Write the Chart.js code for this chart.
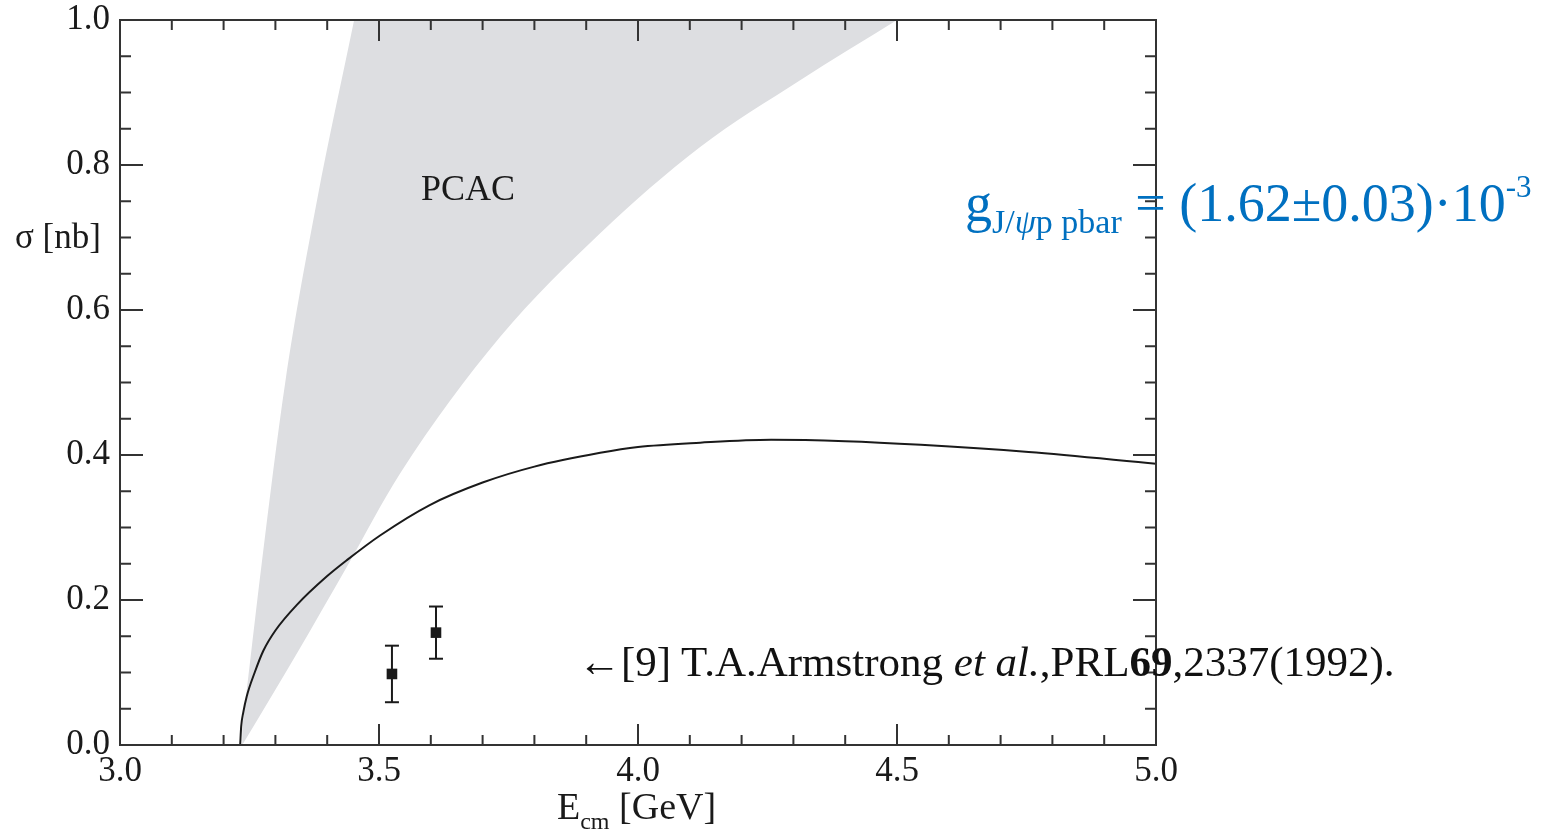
<!DOCTYPE html>
<html>
<head>
<meta charset="utf-8">
<title>sigma vs Ecm</title>
<script src="https://cdn.jsdelivr.net/npm/chart.js@4.4.0/dist/chart.umd.min.js"></script>
<style>
    body { margin: 0; background: #fff; }
    #wrap { position: relative; width: 1549px; height: 831px; font-family: 'Liberation Serif', 'Times New Roman', serif; }
    #wrap canvas { position: absolute; left: 0; top: 0; }
    .note { position: absolute; white-space: nowrap; line-height: 1; color: #1a1a1a; }
    .note span { position: relative; }
</style>
</head>
<body>
<div id="wrap">
    <canvas id="sigmaChart" width="1549" height="831"></canvas>
    <div class="note" style="left:421px; top:170px; font-size:36px;">PCAC</div>
    <div class="note" style="left:15px; top:219px; font-size:35px;">σ [nb]</div>
    <div class="note" style="left:557px; top:787px; font-size:38px;">E<span style="font-size:24px; top:10px;">cm</span> [GeV]</div>
    <div class="note" style="left:578px; top:640px; font-size:43px; color:#111;">←[9] T.A.Armstrong <i>et al.</i>,PRL<b>69</b>,2337(1992).</div>
    <div class="note" style="left:965px; top:176px; font-size:54px; color:#0070c0;">g<span style="font-size:34px; top:12px;">J/<i>ψ</i>p pbar</span> = (1.62±0.03)·10<span style="font-size:31px; top:-24px;">-3</span></div>
</div>
<script>
// model curve
const curveE     = [3.232, 3.234, 3.238, 3.2446, 3.260, 3.2767, 3.300, 3.341, 3.400, 3.438, 3.502, 3.598, 3.700, 3.800, 3.927, 4.000, 4.120, 4.257, 4.400, 4.546, 4.754, 5.000];
const curveSigma = [0.000, 0.026, 0.045, 0.067,  0.100, 0.130,  0.158, 0.193, 0.233, 0.255, 0.289, 0.331, 0.362, 0.384, 0.403, 0.411, 0.417, 0.421, 0.419, 0.414, 0.404, 0.388];

// PCAC band: upper (left) edge and lower (right) edge, running past the frame top
const bandUpperE     = [3.232, 3.247, 3.2735, 3.319, 3.380, 3.452, 3.500, 4.500];
const bandUpperSigma = [0.000, 0.090, 0.250,  0.500, 0.750, 1.000, 1.170, 1.170];
const bandLowerE     = [3.236, 3.342, 3.438, 3.541, 3.734, 3.927, 4.120, 4.313, 4.500];
const bandLowerSigma = [0.000, 0.127, 0.246, 0.375, 0.563, 0.706, 0.825, 0.917, 1.000];

// Armstrong et al. data
const armE     = [3.525, 3.610];
const armSigma = [0.098, 0.155];
const armErr   = [0.039, 0.036];

const FONT = 'Liberation Serif';
const INK = '#1a1a1a';

const toPts = (xs, ys) => xs.map((x, i) => ({ x: x, y: ys[i] }));
const isMajor = (v, step) => Math.abs(v / step - Math.round(v / step)) < 1e-6;

// inward ticks on all four sides + frame
const frameTicks = {
    id: 'frameTicks',
    afterDraw(chart) {
        const { ctx, chartArea: a, scales: { x, y } } = chart;
        ctx.save();
        ctx.strokeStyle = '#333';
        ctx.lineWidth = 2;
        ctx.beginPath();
        x.ticks.forEach(t => {
            const px = x.getPixelForValue(t.value);
            const len = isMajor(t.value, 0.5) ? 21 : 10;
            ctx.moveTo(px, a.bottom); ctx.lineTo(px, a.bottom - len);
            ctx.moveTo(px, a.top); ctx.lineTo(px, a.top + len);
        });
        y.ticks.forEach(t => {
            const py = y.getPixelForValue(t.value);
            const len = isMajor(t.value, 0.2) ? 23 : 11;
            ctx.moveTo(a.left, py); ctx.lineTo(a.left + len, py);
            ctx.moveTo(a.right, py); ctx.lineTo(a.right - len, py);
        });
        ctx.stroke();
        ctx.strokeRect(a.left, a.top, a.right - a.left, a.bottom - a.top);
        ctx.restore();
    }
};

const errorSets = armE.map((e, i) => ({
    data: [{ x: e, y: armSigma[i] - armErr[i] }, { x: e, y: armSigma[i] + armErr[i] }],
    showLine: true,
    borderColor: INK,
    borderWidth: 2,
    pointStyle: 'line',
    pointRadius: 7,
    pointBorderWidth: 2,
    pointBorderColor: INK,
    order: 1
}));

const ctx = document.getElementById('sigmaChart').getContext('2d');
new Chart(ctx, {
    type: 'scatter',
    data: {
        datasets: [
            {
                data: toPts(bandUpperE, bandUpperSigma),
                showLine: true,
                borderWidth: 0,
                pointRadius: 0,
                cubicInterpolationMode: 'monotone',
                fill: '+1',
                backgroundColor: 'rgb(221, 222, 225)',
                order: 5
            },
            {
                data: toPts(bandLowerE, bandLowerSigma),
                showLine: true,
                borderWidth: 0,
                pointRadius: 0,
                cubicInterpolationMode: 'monotone',
                fill: false,
                order: 6
            },
            {
                data: toPts(curveE, curveSigma),
                showLine: true,
                borderColor: INK,
                borderWidth: 2,
                pointRadius: 0,
                cubicInterpolationMode: 'monotone',
                order: 2
            },
            ...errorSets,
            {
                data: toPts(armE, armSigma),
                pointStyle: 'rect',
                pointRadius: 7.5,
                pointBorderWidth: 0,
                backgroundColor: INK,
                order: 0
            }
        ]
    },
    options: {
        responsive: false,
        animation: false,
        events: [],
        layout: { padding: { left: 0, top: 20, right: 393, bottom: 0 } },
        plugins: {
            legend: { display: false },
            tooltip: { enabled: false }
        },
        scales: {
            x: {
                type: 'linear',
                min: 3,
                max: 5,
                grid: { display: false, drawTicks: false },
                border: { display: false },
                ticks: {
                    stepSize: 0.1,
                    autoSkip: false,
                    maxRotation: 0,
                    padding: 9,
                    color: INK,
                    font: { family: FONT, size: 35, lineHeight: 1 },
                    callback: v => isMajor(v, 0.5) ? v.toFixed(1) : ''
                },
                afterFit(s) { s.height = 86; }
            },
            y: {
                type: 'linear',
                min: 0,
                max: 1,
                grid: { display: false, drawTicks: false },
                border: { display: false },
                ticks: {
                    stepSize: 0.05,
                    autoSkip: false,
                    padding: 10,
                    color: INK,
                    font: { family: FONT, size: 35, lineHeight: 0.5 },
                    callback: v => isMajor(v, 0.2) ? v.toFixed(1) : ''
                },
                afterFit(s) { s.width = 120; }
            }
        }
    },
    plugins: [frameTicks]
});
</script>
</body>
</html>
